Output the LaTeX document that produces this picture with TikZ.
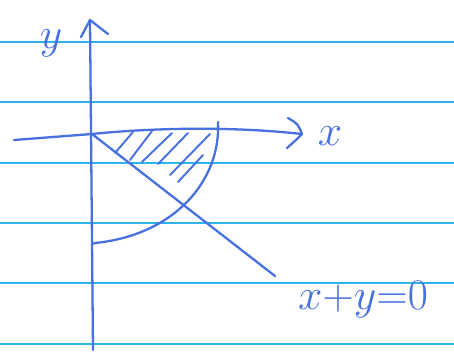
\documentclass[tikz,border=0pt]{standalone}
\usepackage{tikz}
\definecolor{inkblue}{RGB}{72,112,222}
\definecolor{ruleblue}{RGB}{45,180,232}

\begin{document}
\begin{tikzpicture}[x=0.02cm, y=-0.02cm, line width=1.3pt, inkblue, line cap=round, line join=round, every node/.style={text=inkblue, inner sep=0pt}]
\useasboundingbox (0,0) rectangle (454,360);
\foreach \h in {42,102,163,223,283,344}
  \draw[ruleblue, line width=1.1pt] (0,\h) -- (454,\h);
\coordinate (o) at (92,134);
\coordinate (yb) at (93,350);
\coordinate (yt) at (90,20);
\coordinate (xl) at (14,140);
\coordinate (xr) at (302,134);
\coordinate (d) at (275,276);
\coordinate (a) at (218,122);
\coordinate (b) at (95,243);
\draw (yb)--(yt);
\draw (81,37)--(yt)--(108,34);
\draw (xl)--(o) .. controls (150,128) and (230,126) .. (xr);
\draw (288,118) .. controls (298,124) .. (xr) .. controls (296,140) .. (287,148);
\draw (o)--(d);
\draw (a) .. controls (221,180) and (175,235) .. (b) -- (92,244);
\foreach \xa/\ya/\xb/\yb in {115/153/133/132, 130/160/152/131, 142/162/172/133, 158/164/188/133, 170/175/210/134, 178/182/203/155}
  {\draw[line width=1.1pt] (\xa,\ya) -- (\xb,\yb);}
\node (ylab) at (51,43) {\fontsize{28}{30}\selectfont$y$};
\node (xlab) at (330,136) {\fontsize{28}{30}\selectfont$x$};
\node (eqlab) at (363,300) {\fontsize{29}{31}\selectfont$x{+}y{=}0$};
\end{tikzpicture}
\end{document}
